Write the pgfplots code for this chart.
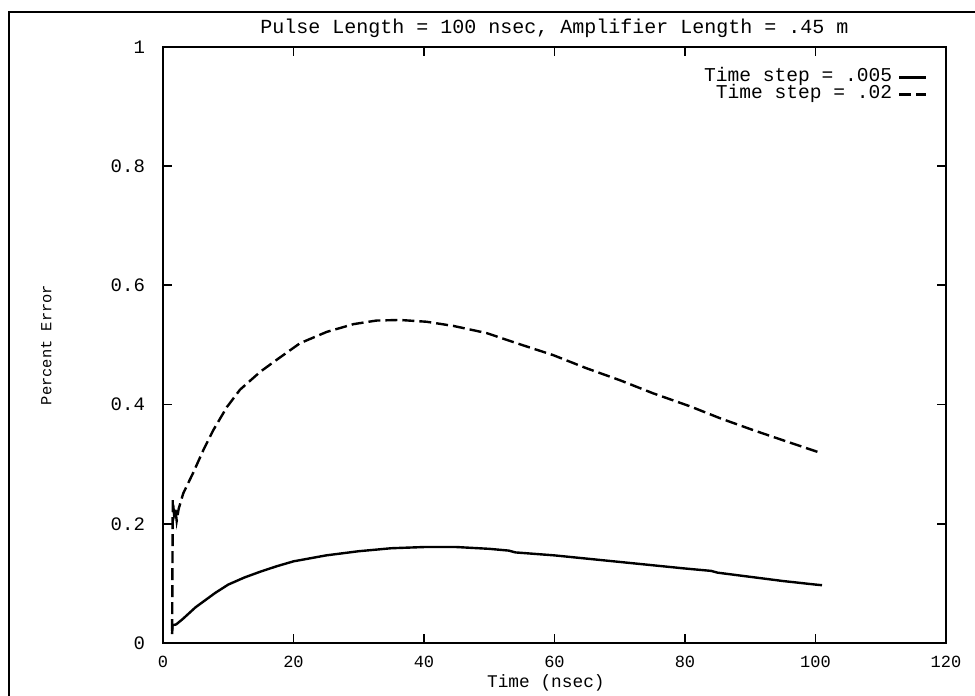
\documentclass[border=0pt]{standalone}
\usepackage{pgfplots}
\pgfplotsset{compat=1.18}
\usepackage{fontspec}
\setmainfont{Liberation Mono}
\begin{document}
\begin{tikzpicture}
\useasboundingbox (-81.5pt,-26.5pt) rectangle (406pt,321.5pt);
\begin{axis}[
  at={(0pt,0pt)}, anchor=south west,
  scale only axis, width=391.5pt, height=298pt,
  xmin=0, xmax=120, ymin=0, ymax=1,
  xtick={0,20,40,60,80,100,120},
  ytick={0,0.2,0.4,0.6,0.8,1},
  yticklabels={0,0.2,0.4,0.6,0.8,1},
  tick align=inside, major tick length=4.5pt,
  axis line style={line width=1pt},
  every tick/.style={line width=0.9pt, black},
  xticklabel style={font=\fontsize{8.5}{10}\selectfont, yshift=-3pt},
  yticklabel style={font=\fontsize{9.5}{10}\selectfont, xshift=-5.5pt},
  /pgf/number format/assume math mode=true,
  title={Pulse Length = 100 nsec, Amplifier Length = .45 m},
  title style={at={(0.5,1)}, anchor=base, yshift=0.5pt, font=\fontsize{10}{12}\selectfont},
  xlabel={Time (nsec)},
  xlabel style={at={(axis description cs:0.489,-0.0671)}, anchor=center, font=\fontsize{8.9}{10}\selectfont},
  ylabel={Percent Error},
  ylabel style={at={(axis description cs:-0.149,0.5)}, anchor=center, font=\fontsize{7.7}{9}\selectfont},
  legend style={draw=none, fill=none, at={(axis description cs:0.977,0.964)}, anchor=north east,
    inner sep=0pt, font=\fontsize{9.8}{11}\selectfont,
    nodes={inner sep=0.5pt, text height=6pt, text depth=1.5pt},
    /tikz/every odd column/.append style={column sep=2.5pt}},
  legend plot pos=right, legend cell align=right,
  legend image code/.code={\draw[#1] (0pt,0pt) -- (13.5pt,0pt);},
]
\addplot[black, line width=1.2pt] coordinates {
(1.4,0.015) (1.45,0.03) (2,0.031) (3,0.04) (5,0.06) (8,0.084) (10,0.098)
(12.5,0.11) (15,0.12) (17.5,0.129) (20,0.137) (25,0.147) (30,0.154)
(35,0.159) (40,0.161) (45,0.161) (50,0.158) (53,0.155) (54,0.152)
(60,0.147) (70,0.136) (80,0.125) (84,0.121) (85,0.118) (90,0.111)
(95,0.104) (100,0.098) (101,0.097)
};
\addlegendentry{Time step = .005}
\addplot[black, line width=1.2pt, dash pattern=on 6pt off 2.5pt] coordinates {
(1.4,0.02) (1.5,0.24) (1.7,0.215) (1.9,0.225) (2.1,0.205) (2.4,0.225)
(3.1,0.251) (4.6,0.285) (6.2,0.324) (7.7,0.357) (9.8,0.396) (11.8,0.425)
(14.9,0.455) (17.4,0.475) (21.0,0.503) (25.1,0.522) (29.2,0.535)
(32.7,0.541) (36.3,0.542) (40.4,0.539) (44.5,0.532) (49.6,0.520)
(54.2,0.503) (59.8,0.483) (64.9,0.461) (70.0,0.441) (75.1,0.419)
(80.8,0.397) (85.4,0.377) (90.5,0.357) (95.6,0.338) (100.5,0.320)
};
\addlegendentry{Time step = .02}
\end{axis}
\draw[line width=0.8pt] (-77pt,-26.5pt) -- (-77pt,315.5pt) -- (406pt,315.5pt);
\end{tikzpicture}
\end{document}
